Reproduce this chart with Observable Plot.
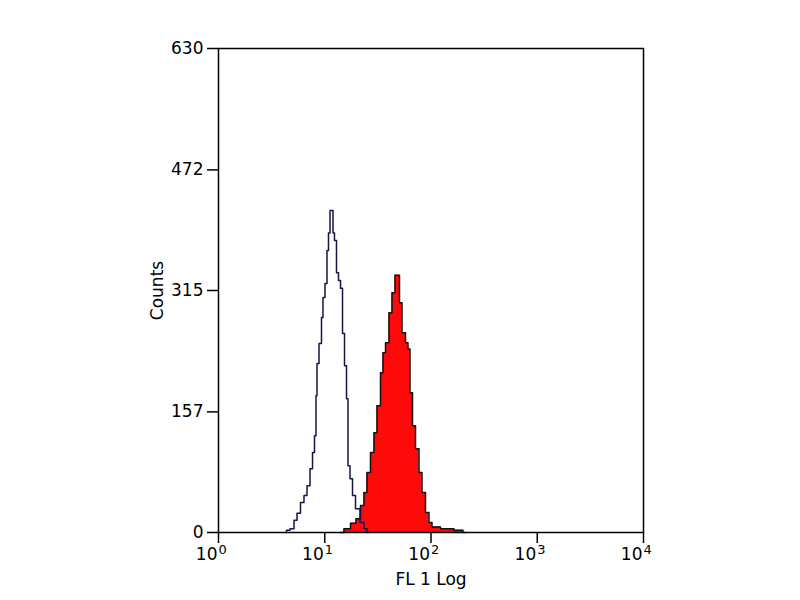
<!DOCTYPE html>
<html>
<head>
<meta charset="utf-8">
<script src="https://cdn.jsdelivr.net/npm/d3@7"></script>
<script src="https://cdn.jsdelivr.net/npm/@observablehq/plot@0.6"></script>
<style>
  html, body { margin: 0; padding: 0; background: #fff; }
  #chart svg { display: block; }
</style>
</head>
<body>
<div id="chart"></div>
<script>
// Isotype control (open outline histogram)
const controlFL = [4.27,4.46,4.97,5.31,5.66,6.17,6.59,7.03,7.51,7.84,8.18,8.36,8.55,9.12,9.52,9.73,10.39,10.61,11.08,11.33,11.83,12.09,12.62,13.18,13.77,14.38,15.02,15.68,16.37,16.73,17.86,18.65,20.33,22.66,24.18,25.81];
const controlCounts = [0,3,5,16,25,39,48,61,83,104,126,178,220,246,280,306,324,367,390,419,419,390,380,338,328,318,259,217,174,87,70,48,31,13,5,0];

// Stained sample (red filled histogram)
const stainedFL = [14.07,16.37,18.65,20.78,22.66,24.18,25.81,28.14,30.03,32.06,34.96,35.73,38.96,41.58,44.38,47.35,49.45,51.64,55.10,60.08,61.40,65.53,68.44,74.64,79.64,85.0,92.7,98.9,105.6,143.0,189.5,211.2];
const stainedCounts = [0,5,12,18,35,52,78,104,130,165,208,234,247,286,312,335,335,299,260,247,239,182,139,109,78,52,26,13,7,5,3,0];

const xTicks = [1, 10, 100, 1000, 10000];
const xTickBase = ["10", "10", "10", "10", "10"];
const xTickExponents = ["0", "1", "2", "3", "4"];
const yTicks = [0, 157, 315, 472, 630];

const control = controlFL.map((v, i) => ({fl: v, count: controlCounts[i]}));
const stained = stainedFL.map((v, i) => ({fl: v, count: stainedCounts[i]}));
const xLabels = xTicks.map((t, i) => ({tick: t, base: xTickBase[i], exp: xTickExponents[i]}));

const font = "'DejaVu Sans', 'Liberation Sans', Arial, sans-serif";

const chart = Plot.plot({
  width: 800,
  height: 600,
  marginLeft: 218,
  marginRight: 157,
  marginTop: 48,
  marginBottom: 68,
  style: {fontFamily: font, fontSize: "17px", color: "#000", background: "#fff"},
  x: {type: "log", domain: [1, 10000]},
  y: {domain: [0, 630]},
  marks: [
    Plot.areaY(stained, {x: "fl", y: "count", fill: "#ff0a0a", curve: "step"}),
    Plot.lineY(stained, {x: "fl", y: "count", stroke: "#111", strokeWidth: 1.5, curve: "step"}),
    Plot.lineY(control, {x: "fl", y: "count", stroke: "#15154a", strokeWidth: 1.5, curve: "step"}),
    Plot.frame({stroke: "#000", strokeWidth: 1.5}),
    Plot.axisX({ticks: xTicks, tickFormat: () => "", tickSize: 11, strokeWidth: 1.5,
      label: "FL 1 Log", labelAnchor: "center", labelArrow: "none", labelOffset: 52, fontSize: 17}),
    Plot.text(xLabels, {x: "tick", text: "base", frameAnchor: "bottom", textAnchor: "end", dx: -1, dy: 27, fontSize: 17, fill: "#000"}),
    Plot.text(xLabels, {x: "tick", text: "exp", frameAnchor: "bottom", textAnchor: "start", dx: 0, dy: 21, fontSize: 13, fill: "#000"}),
    Plot.axisY({ticks: yTicks, tickFormat: d => String(d), tickSize: 11, tickPadding: 4, strokeWidth: 1.5,
      fontSize: 17, label: "Counts", labelAnchor: "center", labelArrow: "none", labelOffset: 68})
  ]
});
document.getElementById("chart").appendChild(chart);
</script>
</body>
</html>
